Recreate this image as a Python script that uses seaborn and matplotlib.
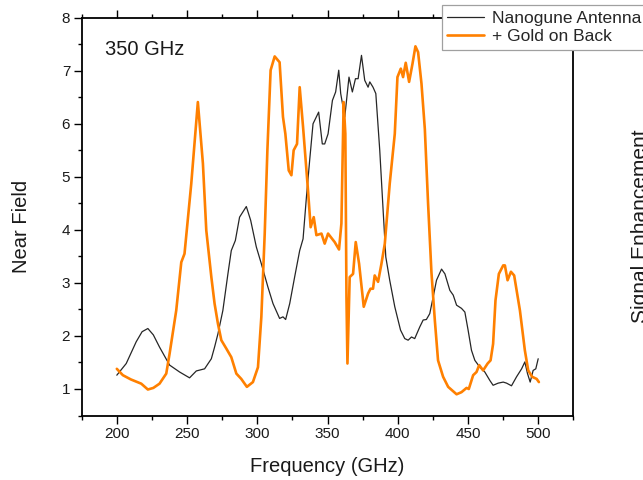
import numpy as np
import pandas as pd
import matplotlib
matplotlib.use("Agg")
import matplotlib.pyplot as plt
from matplotlib.ticker import MultipleLocator
import seaborn as sns

# ---- data ----
freq_antenna = [200, 206.7, 213.8, 218, 222.1, 226, 230.4, 237.6, 244.7, 251.8, 256.6, 262.5,
                267.3, 269.6, 272, 275.5, 279.1, 281.5, 284.4, 287.4, 292.2, 295.3, 299.3,
                302.9, 307.6, 311.2, 315.9, 318.3, 320.2, 323.1, 326.6, 330.2, 332.6, 335,
                337.3, 339.7, 343.7, 346.3, 348, 350.4, 353.5, 355.8, 358, 359.4, 362.3,
                365.3, 367.7, 369.9, 371.8, 374.2, 376.5, 378.9, 380.1, 382.4, 384.4, 387.2,
                389.6, 391.5, 394.3, 397.9, 402, 405, 407.4, 409.8, 412.1, 415.7, 418.1,
                420.4, 422.8, 425.2, 427.6, 431.2, 433.6, 437.1, 439.5, 441.9, 445.4, 447.8,
                450.1, 452.5, 454.9, 458.5, 462, 465.6, 467.9, 471.5, 475.1, 477.5, 481,
                484.6, 488.2, 490.5, 492.4, 494.3, 496.4, 498.3, 500]
field_antenna = [1.26, 1.48, 1.89, 2.08, 2.14, 2.02, 1.79, 1.45, 1.32, 1.21, 1.34, 1.38,
                 1.57, 1.79, 2.04, 2.48, 3.17, 3.61, 3.80, 4.24, 4.44, 4.18, 3.68,
                 3.36, 2.92, 2.61, 2.33, 2.36, 2.31, 2.61, 3.11, 3.61, 3.83, 4.62,
                 5.31, 6.00, 6.22, 5.62, 5.62, 5.81, 6.44, 6.60, 7.01, 6.57, 6.13,
                 6.88, 6.60, 6.85, 6.85, 7.29, 6.82, 6.69, 6.79, 6.69, 6.57, 5.50,
                 4.37, 3.49, 3.05, 2.55, 2.11, 1.95, 1.92, 1.98, 1.95, 2.17, 2.30,
                 2.31, 2.42, 2.73, 3.05, 3.26, 3.17, 2.86, 2.77, 2.58, 2.52, 2.45,
                 2.11, 1.73, 1.54, 1.41, 1.32, 1.16, 1.07, 1.11, 1.13, 1.11, 1.06,
                 1.23, 1.38, 1.51, 1.29, 1.13, 1.35, 1.38, 1.57]

freq_gold = [200, 204.3, 210, 217.4, 222.1, 226, 230.4, 235.2, 237.6, 242.3, 245.9, 248.2,
             253, 257.7, 261.3, 263.7, 267.3, 269.6, 272, 274.4, 278, 281.5, 285.1, 288.6,
             292.6, 296.9, 300.5, 302.9, 305.3, 307.2, 309.5, 312.4, 315.9, 318.3, 320,
             322.4, 324.3, 325.9, 328.3, 330.2, 332.6, 336.1, 338, 340.2, 342.1, 345.7,
             348, 350.4, 355.1, 358.2, 359.9, 361.5, 362.7, 363.5, 364.2, 365.8, 368.2,
             370.1, 372.5, 375.8, 378.9, 380.6, 382.4, 383.6, 386, 388.4, 390.8, 394.3,
             397.9, 399.8, 402.2, 403.8, 405.7, 408.1, 410.5, 412.6, 414.5, 416.9, 419.3,
             421.6, 424, 426.4, 428.7, 432.3, 435.9, 441.9, 445.4, 449, 450.6, 453.7,
             456.1, 458, 460.8, 464, 466.1, 467.9, 469.6, 472, 475.1, 476.3, 478.2,
             480.6, 482.9, 487, 490.5, 492.9, 495.7, 498.9, 500.5]
field_gold = [1.38, 1.26, 1.18, 1.10, 0.99, 1.02, 1.10, 1.29, 1.67, 2.48, 3.39, 3.55,
              4.87, 6.41, 5.25, 3.99, 3.11, 2.61, 2.23, 1.92, 1.76, 1.60, 1.29, 1.19,
              1.04, 1.13, 1.41, 2.36, 3.93, 5.50, 7.01, 7.27, 7.16, 6.13, 5.81,
              5.12, 5.03, 5.50, 5.62, 6.69, 5.94, 4.75, 4.05, 4.24, 3.90, 3.93,
              3.74, 3.93, 3.77, 3.63, 4.12, 6.41, 5.81, 2.73, 1.48, 3.11, 3.17,
              3.77, 3.36, 2.55, 2.80, 2.89, 2.89, 3.14, 3.02, 3.36, 3.74, 4.87,
              5.81, 6.88, 7.04, 6.88, 7.15, 6.79, 7.13, 7.46, 7.35, 6.76, 5.90,
              4.50, 3.20, 2.30, 1.54, 1.23, 1.04, 0.90, 0.94, 1.02, 1.00, 1.26,
              1.32, 1.45, 1.35, 1.48, 1.54, 1.85, 2.67, 3.17, 3.33, 3.33, 3.05,
              3.21, 3.14, 2.48, 1.73, 1.35, 1.23, 1.19, 1.13]

series_names = ["Nanogune Antenna", "+ Gold on Back"]
x_ticks = [200, 250, 300, 350, 400, 450, 500]
y_ticks = [1, 2, 3, 4, 5, 6, 7, 8]

sns.set_style("ticks")
plt.rcParams["font.family"] = ["Liberation Sans", "DejaVu Sans"]

W, H = 643, 480
fig = plt.figure(figsize=(W / 100, H / 100), dpi=100)
L, R, T, B = 81.7, 573.3, 17.7, 415.5
ax = fig.add_axes([L / W, 1 - B / H, (R - L) / W, (B - T) / H])

df_a = pd.DataFrame({"freq": freq_antenna, "field": field_antenna})
df_g = pd.DataFrame({"freq": freq_gold, "field": field_gold})
sns.lineplot(data=df_a, x="freq", y="field", ax=ax, color="#262626", linewidth=0.9,
             label=series_names[0], sort=False, estimator=None)
sns.lineplot(data=df_g, x="freq", y="field", ax=ax, color="#FF8000", linewidth=1.9,
             label=series_names[1], sort=False, estimator=None)

ax.set_xlim(175, 525)
ax.set_ylim(0.5, 8)
ax.set_xticks(x_ticks)
ax.set_yticks(y_ticks)
ax.xaxis.set_minor_locator(MultipleLocator(25))
ax.yaxis.set_minor_locator(MultipleLocator(0.5))
ax.tick_params(which="both", direction="out", top=True, right=False, labeltop=False,
               width=1.0, color="black", labelsize=11, pad=2.5, labelcolor="#1a1a1a")
ax.tick_params(which="major", length=5.8)
ax.tick_params(which="minor", length=3.2)
for s in ax.spines.values():
    s.set_visible(True)
    s.set_linewidth(1.3)
    s.set_color("black")

ax.set_xlabel("Frequency (GHz)", fontsize=14.5, color="#1a1a1a")
ax.set_ylabel("Near Field", fontsize=14.5, color="#1a1a1a")
ax.xaxis.set_label_coords(0.5, (B - 457) / (B - T))
ax.yaxis.set_label_coords((31 - L) / (R - L), (B - 226) / (B - T))

ax.text(0.047, (B - 55) / (B - T), "350 GHz", transform=ax.transAxes,
        fontsize=14.5, va="baseline", ha="left", color="#1a1a1a")

fig.text(631.5 / W, 1 - 226.5 / H, "Signal Enhancement", rotation=90,
         ha="left", va="center", fontsize=15, color="#1a1a1a")

leg = ax.legend(loc="upper left", bbox_to_anchor=(441.7 / W, 1 - 5 / H),
                bbox_transform=fig.transFigure, borderaxespad=0, fontsize=12.5,
                frameon=True, fancybox=False, framealpha=1, edgecolor="#a0a0a0",
                borderpad=0.32, handlelength=2.1, handletextpad=0.45,
                labelspacing=0.18)
leg.get_frame().set_linewidth(0.9)
leg.set_zorder(10)

fig.savefig("out.png", dpi=100)
